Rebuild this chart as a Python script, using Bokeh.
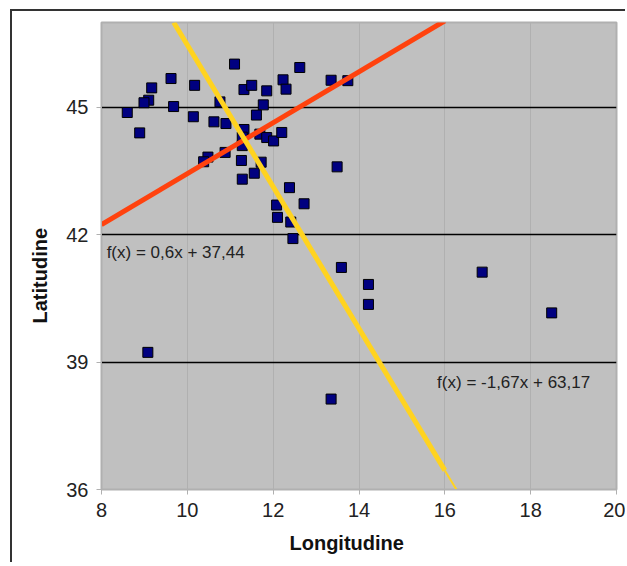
from bokeh.plotting import figure
from bokeh.models import Range1d, FixedTicker, Label, Title
from bokeh.embed import file_html
from bokeh.resources import INLINE

# Data
lon = [11.10, 12.62, 9.62, 9.17, 10.17, 11.32, 11.50, 11.85, 12.23, 12.30, 13.35, 13.74,
       9.10, 8.99, 9.68, 10.76, 11.77, 8.60, 10.14, 11.61, 8.89, 10.62, 10.90, 11.32,
       11.69, 11.85, 12.01, 12.20, 11.28, 11.28, 10.88, 10.48, 10.38, 11.26, 11.72, 11.56,
       11.28, 13.49, 12.38, 12.08, 12.72, 12.10, 12.41, 12.46, 13.59, 16.87, 14.22, 14.22,
       18.49, 9.08, 13.35]
lat = [46.02, 45.94, 45.68, 45.46, 45.52, 45.42, 45.52, 45.39, 45.65, 45.43, 45.64, 45.63,
       45.17, 45.11, 45.02, 45.13, 45.06, 44.88, 44.78, 44.82, 44.40, 44.66, 44.62, 44.48,
       44.37, 44.29, 44.21, 44.41, 44.30, 44.10, 43.94, 43.83, 43.72, 43.75, 43.71, 43.45,
       43.31, 43.60, 43.11, 42.70, 42.73, 42.41, 42.30, 41.91, 41.23, 41.12, 40.83, 40.36,
       40.16, 39.23, 38.13]

x_ticks = [8, 10, 12, 14, 16, 18, 20]
y_ticks = [36, 39, 42, 45]

# Trend lines: f(x) = slope*x + intercept
red_slope, red_intercept = 0.6, 37.44
red_x = [8, 16]
yel_slope, yel_intercept = -1.67, 63.17
yel_x_thick = [9.683, 16.0]
yel_x_thin = [16.0, 16.27]
red_label = "f(x) = 0,6x + 37,44"
yel_label = "f(x) = -1,67x + 63,17"
x_title = "Longitudine"
y_title = "Latitudine"

FONT = "Liberation Sans"

p = figure(width=615, height=553, x_range=Range1d(8, 20), y_range=Range1d(36, 47),
           output_backend="svg", toolbar_location=None,
           background_fill_color="#c0c0c0", border_fill_color="white",
           min_border_left=89, min_border_right=11, min_border_top=11, min_border_bottom=75,
           margin=(9, 0, 0, 10),
           styles={"border-left": "2px solid #333333", "border-top": "2px solid #333333"})

p.outline_line_color = "#b0b0b0"
p.outline_line_width = 2

p.xaxis.ticker = FixedTicker(ticks=x_ticks)
p.yaxis.ticker = FixedTicker(ticks=y_ticks)
for ax in (p.xaxis, p.yaxis):
    ax.axis_line_color = "#b0b0b0"
    ax.major_tick_line_color = "#b0b0b0"
    ax.major_tick_out = 5
    ax.major_tick_in = 0
    ax.minor_tick_line_color = None
    ax.major_label_text_font = FONT
    ax.major_label_text_font_size = "20px"
    ax.major_label_text_color = "#222222"
p.xaxis.major_label_standoff = 8
p.yaxis.major_label_standoff = 8

p.xgrid.ticker = FixedTicker(ticks=x_ticks)
p.ygrid.ticker = FixedTicker(ticks=y_ticks)
p.xgrid.grid_line_color = "#b0b0b0"
p.xgrid.grid_line_width = 1
p.ygrid.grid_line_color = "#000000"
p.ygrid.grid_line_width = 1.5

p.scatter(lon, lat, marker="square", size=10, fill_color="#000080",
          line_color="#000000", line_width=1)

p.line(red_x, [red_slope * x + red_intercept for x in red_x],
       line_color="#ff420e", line_width=5)
p.line(yel_x_thick, [yel_slope * x + yel_intercept for x in yel_x_thick],
       line_color="#ffd320", line_width=5)
p.line(yel_x_thin, [yel_slope * x + yel_intercept for x in yel_x_thin],
       line_color="#ffd320", line_width=2)

p.add_layout(Label(x=8.12, y=41.58, text=red_label, text_font=FONT,
                   text_font_size="17px", text_color="#222222", text_baseline="middle"))
p.add_layout(Label(x=15.82, y=38.52, text=yel_label, text_font=FONT,
                   text_font_size="17px", text_color="#222222", text_baseline="middle"))

# Axis titles, slightly off-centre like the reference
p.add_layout(Title(text=x_title, align="left", offset=188, standoff=21,
                   text_font=FONT, text_font_size="20px", text_font_style="bold",
                   text_color="#111111"), "below")
p.add_layout(Title(text=y_title, align="left", offset=166, standoff=25,
                   text_font=FONT, text_font_size="20px", text_font_style="bold",
                   text_color="#111111"), "left")

open("out.html", "w").write(file_html(p, INLINE))
